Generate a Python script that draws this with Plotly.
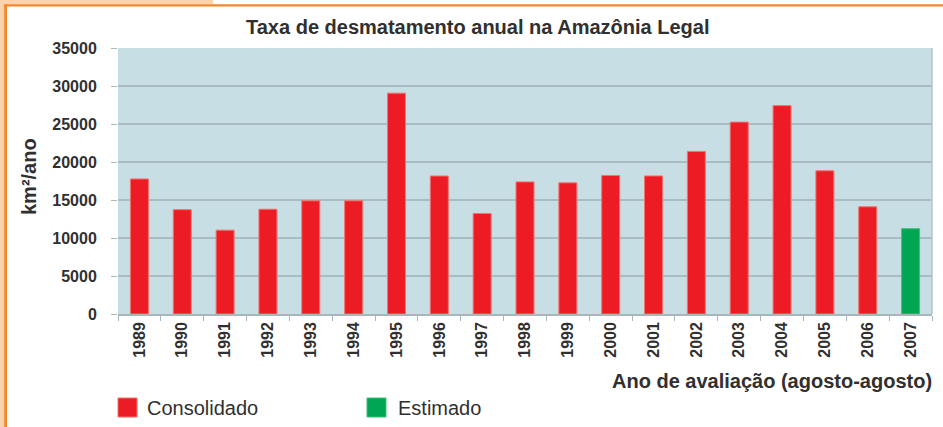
import plotly.graph_objects as go

# Annual deforestation rate in the Legal Amazon (km²/year), PRODES
anos = ["1989", "1990", "1991", "1992", "1993", "1994", "1995", "1996", "1997",
        "1998", "1999", "2000", "2001", "2002", "2003", "2004", "2005", "2006", "2007"]
taxa = [17770, 13730, 11030, 13786, 14896, 14896, 29059, 18161, 13227,
        17383, 17259, 18226, 18165, 21394, 25247, 27423, 18846, 14109, 11224]
situacao = ["Consolidado"] * 18 + ["Estimado"]

cores = {"Consolidado": "#ed1c24", "Estimado": "#00a651"}
bordas = {"Consolidado": "#f4736f", "Estimado": "#3fbf7a"}

y_ticks = [0, 5000, 10000, 15000, 20000, 25000, 30000, 35000]

W, H = 943, 427
L, R, T, B = 118, 11, 48, 113
PW, PH = W - L - R, H - T - B


def px(x):
    return (x - L) / PW


def py(y):
    return (H - B - y) / PH


TXT = "#303030"
NARROW = "Liberation Sans Narrow, Arial Narrow, Liberation Sans, Arial, sans-serif"
SANS = "Liberation Sans, Arial, sans-serif"

fig = go.Figure()
fig.add_trace(go.Bar(
    x=anos,
    y=taxa,
    marker=dict(color=[cores[s] for s in situacao],
                line=dict(color=[bordas[s] for s in situacao], width=1)),
    width=0.42,
    showlegend=False,
    hoverinfo="x+y",
))

shapes = []
# page frame: peach strips and orange rule along top and left
shapes.append(dict(type="rect", xref="paper", yref="paper", x0=px(0), x1=px(4.5),
                   y0=py(H), y1=py(0), fillcolor="#fdd3ad", line_width=0, layer="below"))
shapes.append(dict(type="rect", xref="paper", yref="paper", x0=px(0), x1=px(213),
                   y0=py(4.5), y1=py(0), fillcolor="#fdd3ad", line_width=0, layer="below"))
shapes.append(dict(type="rect", xref="paper", yref="paper", x0=px(4.5), x1=px(W),
                   y0=py(6.5), y1=py(4.2), fillcolor="#f7862b", line_width=0))
shapes.append(dict(type="rect", xref="paper", yref="paper", x0=px(4.2), x1=px(7),
                   y0=py(H), y1=py(4.2), fillcolor="#f7862b", line_width=0))
# right edge of plot area
shapes.append(dict(type="line", xref="paper", yref="paper", x0=1, x1=1, y0=0, y1=1,
                   line=dict(color="#b4c4c9", width=1.5)))

# legend swatches
leg = [("Consolidado", 118, 145), ("Estimado", 367, 396)]
annotations = []
for nome, x0, xt in leg:
    shapes.append(dict(type="rect", xref="paper", yref="paper",
                       x0=px(x0), x1=px(x0 + 19), y0=py(417), y1=py(398),
                       fillcolor=cores[nome], line=dict(color=bordas[nome], width=1)))
    annotations.append(dict(text=nome, xref="paper", yref="paper", x=px(xt), y=py(408),
                            xanchor="left", yanchor="middle", showarrow=False,
                            font=dict(family=SANS, size=20, color=TXT)))

annotations.append(dict(text="<b>Taxa de desmatamento anual na Amazônia Legal</b>",
                        xref="paper", yref="paper", x=px(477.5), y=py(27),
                        xanchor="center", yanchor="middle", showarrow=False,
                        font=dict(family=SANS, size=20, color=TXT)))
annotations.append(dict(text="<b>Ano de avaliação (agosto-agosto)</b>",
                        xref="paper", yref="paper", x=px(934), y=py(381),
                        xanchor="right", yanchor="middle", showarrow=False,
                        font=dict(family=SANS, size=20, color=TXT)))
annotations.append(dict(text="<b>km²/ano</b>", textangle=-90,
                        xref="paper", yref="paper", x=px(29), y=py(177),
                        xanchor="center", yanchor="middle", showarrow=False,
                        font=dict(family=SANS, size=20, color=TXT)))

fig.update_layout(
    width=W, height=H,
    margin=dict(l=L, r=R, t=T, b=B, pad=0),
    paper_bgcolor="white",
    plot_bgcolor="#c8dee5",
    shapes=shapes,
    annotations=annotations,
    xaxis=dict(
        type="category",
        tickangle=-90,
        ticks="outside", tickson="boundaries", ticklen=5, tickcolor="#a9b7bc",
        tickfont=dict(family=NARROW, size=16, color=TXT, weight="bold"),
        showgrid=False,
        showline=True, linecolor="#a9b7bc", linewidth=1.5,
        range=[-0.5, len(anos) - 0.5],
        fixedrange=True,
    ),
    yaxis=dict(
        range=[0, 35000],
        tickvals=y_ticks,
        ticktext=[str(v) for v in y_ticks],
        ticks="outside", ticklen=6, tickcolor="#a9bcc3",
        ticklabelstandoff=11,
        tickfont=dict(family=NARROW, size=16, color=TXT, weight="bold"),
        showgrid=True, gridcolor="#a9bcc3", gridwidth=1.5,
        zeroline=False,
        fixedrange=True,
    ),
    bargap=0.58,
)

fig.write_html("out.html")
